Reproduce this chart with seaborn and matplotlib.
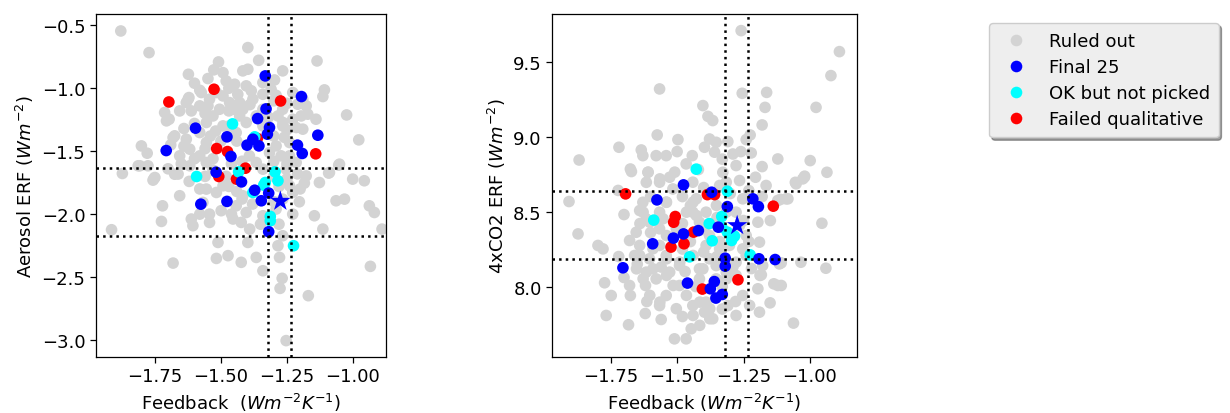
import matplotlib
matplotlib.use("Agg")
import matplotlib.pyplot as plt
import pandas as pd
import seaborn as sns

sns.set_theme(style="ticks")
plt.rcParams["font.family"] = ["DejaVu Sans"]
plt.rcParams["mathtext.fontset"] = "dejavusans"
plt.rcParams["font.size"] = 13
plt.rcParams["text.color"] = "black"
plt.rcParams["axes.labelcolor"] = "black"
plt.rcParams["xtick.color"] = "black"
plt.rcParams["ytick.color"] = "black"

GROUPS = ["Ruled out", "Final 25", "OK but not picked", "Failed qualitative"]
PALETTE = {"Ruled out": "lightgray", "Final 25": "blue",
           "OK but not picked": "cyan", "Failed qualitative": "red"}
DRAW_ORDER = ["Ruled out", "Failed qualitative", "OK but not picked", "Final 25"]

# Observational bounds
feedback_bounds = [-1.32, -1.235]
aerosol_bounds = [-1.632, -2.172]
co2_bounds = [8.636, 8.183]

# (feedback, aerosol ERF)
aer_ruled_out = [
    (-1.879, -0.545), (-1.772, -0.717), (-1.398, -0.677), (-1.357, -0.778), (-1.136, -0.783),
    (-1.509, -0.791), (-1.623, -0.889), (-1.549, -0.923), (-1.527, -0.854), (-1.492, -0.876),
    (-1.417, -0.862), (-1.398, -0.849), (-1.266, -0.862), (-1.297, -0.934), (-1.108, -1.013),
    (-1.114, -1.066), (-1.580, -1.016), (-1.621, -1.074), (-1.631, -1.114), (-1.713, -1.193),
    (-1.696, -1.246), (-1.656, -1.180), (-1.612, -1.180), (-1.580, -1.140), (-1.549, -1.140),
    (-1.480, -0.942), (-1.448, -0.968), (-1.436, -1.048), (-1.404, -0.981), (-1.379, -1.087),
    (-1.341, -1.048), (-1.310, -1.008), (-1.291, -1.056), (-1.228, -1.034), (-1.177, -1.140),
    (-1.190, -1.087), (-1.140, -1.246), (-1.024, -1.212), (-0.978, -1.410), (-1.801, -1.458),
    (-1.779, -1.516), (-1.681, -1.392), (-1.631, -1.405), (-1.580, -1.352), (-1.555, -1.272),
    (-1.530, -1.220), (-1.505, -1.167), (-1.467, -1.114), (-1.417, -1.167), (-1.404, -1.272),
    (-1.284, -1.220), (-1.266, -1.299), (-1.228, -1.246), (-1.190, -1.325), (-1.240, -1.431),
    (-1.291, -1.458), (-1.272, -1.537), (-1.807, -1.616), (-1.776, -1.616), (-1.873, -1.677),
    (-1.750, -1.709), (-1.675, -1.683), (-1.618, -1.616), (-1.555, -1.590), (-1.366, -1.590),
    (-1.215, -1.590), (-1.177, -1.696), (-1.127, -1.749), (-1.089, -1.669), (-1.051, -1.603),
    (-1.001, -1.722), (-0.957, -1.735), (-1.341, -1.643), (-1.253, -1.643),
    (-1.517, -1.034), (-1.492, -1.061), (-1.454, -1.167), (-1.429, -1.220), (-1.366, -1.220),
    (-1.341, -1.299), (-1.492, -1.299), (-1.442, -1.352), (-1.555, -1.431), (-1.618, -1.484),
    (-1.656, -1.537), (-1.580, -1.537), (-1.392, -1.537), (-1.316, -1.511), (-1.240, -1.537),
    (-1.341, -1.167), (-1.266, -1.167), (-1.429, -1.114), (-1.543, -1.087), (-1.341, -0.955),
    (-1.757, -1.730), (-1.656, -1.854), (-1.721, -1.934), (-1.725, -2.058), (-1.612, -2.039),
    (-1.606, -2.092), (-1.914, -2.124), (-1.543, -2.000), (-1.543, -2.066), (-1.517, -1.828),
    (-1.442, -1.934), (-1.454, -2.039), (-1.423, -2.066), (-1.391, -2.119), (-1.398, -2.225),
    (-1.511, -2.225), (-1.517, -2.352), (-1.473, -2.330), (-1.423, -2.383), (-1.366, -2.344),
    (-1.681, -2.389), (-1.341, -2.450), (-1.284, -2.251), (-1.278, -2.344), (-1.266, -2.172),
    (-1.268, -2.510), (-1.276, -2.590), (-1.169, -2.648), (-1.253, -3.005), (-1.203, -1.902),
    (-1.184, -1.754), (-1.146, -2.013), (-1.114, -2.119), (-1.064, -1.894), (-1.032, -1.881),
    (-0.938, -1.934), (-0.919, -1.987), (-0.890, -2.119), (-0.934, -2.415), (-1.228, -2.000),
    (-1.240, -1.775), (-1.555, -1.801), (-1.492, -1.775), (-1.417, -1.854), (-1.291, -1.960),
    (-1.404, -1.987), (-1.341, -2.013), (-1.266, -1.881), (-1.228, -1.828), (-1.499, -1.973),
    (-1.568, -1.907), (-1.196, -1.220), (-1.171, -1.206), (-1.209, -1.127), (-1.215, -1.312),
    (-1.265, -1.272), (-1.092, -1.674), (-1.706, -1.259), (-1.624, -1.087), (-1.574, -1.034),
    (-1.813, -1.616), (-1.753, -1.717), (-1.675, -1.378), (-1.662, -1.682), (-1.054, -1.611),
    (-1.600, -0.960), (-1.470, -1.000), (-1.385, -1.020), (-1.300, -1.100), (-1.250, -1.120),
    (-1.470, -1.180), (-1.390, -1.130), (-1.320, -1.230), (-1.560, -1.200), (-1.600, -1.280),
    (-1.640, -1.320), (-1.520, -1.340), (-1.470, -1.300), (-1.540, -1.380), (-1.500, -1.420),
    (-1.440, -1.420), (-1.300, -1.380), (-1.250, -1.330), (-1.260, -1.390), (-1.690, -1.450),
    (-1.640, -1.460), (-1.560, -1.480), (-1.530, -1.560), (-1.460, -1.600), (-1.420, -1.580),
    (-1.300, -1.580), (-1.250, -1.600), (-1.600, -1.560), (-1.650, -1.600), (-1.700, -1.640),
    (-1.530, -1.650), (-1.480, -1.700), (-1.560, -1.700), (-1.620, -1.740), (-1.580, -1.800),
    (-1.470, -1.780), (-1.440, -1.820), (-1.420, -1.880), (-1.300, -1.700), (-1.250, -1.720),
    (-1.210, -1.680), (-1.280, -1.780), (-1.300, -1.900), (-1.380, -1.920), (-1.460, -2.000),
    (-1.580, -2.000), (-1.350, -2.080), (-1.280, -2.080), (-1.200, -1.800),
]
aer_final = [
    (-1.332, -0.902), (-1.195, -1.066), (-1.329, -1.164), (-1.361, -1.241), (-1.316, -1.312),
    (-1.596, -1.317), (-1.324, -1.365), (-1.477, -1.386), (-1.133, -1.373), (-1.379, -1.405),
    (-1.401, -1.452), (-1.356, -1.458), (-1.210, -1.452), (-1.192, -1.518), (-1.707, -1.495),
    (-1.462, -1.542), (-1.518, -1.667), (-1.422, -1.744), (-1.372, -1.810), (-1.319, -1.833),
    (-1.347, -1.894), (-1.576, -1.921), (-1.477, -1.899), (-1.319, -2.140),
]
aer_ok = [
    (-1.456, -1.283), (-1.592, -1.701), (-1.433, -1.664), (-1.295, -1.664), (-1.284, -1.735),
    (-1.332, -1.749), (-1.372, -1.386), (-1.338, -1.770), (-1.379, -1.828), (-1.313, -2.018),
    (-1.313, -2.053), (-1.225, -2.251),
]
aer_failed = [
    (-1.526, -1.008), (-1.697, -1.109), (-1.274, -1.101), (-1.362, -1.399), (-1.516, -1.479),
    (-1.475, -1.503), (-1.141, -1.521), (-1.407, -1.635), (-1.508, -1.701), (-1.441, -1.722),
]
aer_best = [(-1.275, -1.897)]

# (feedback, 4xCO2 ERF)
co2_ruled_out = [
    (-1.259, 9.707), (-0.889, 9.567), (-0.921, 9.407), (-1.566, 9.318), (-1.255, 9.289),
    (-1.163, 9.295), (-1.169, 9.195), (-1.403, 9.207), (-0.977, 9.195), (-1.384, 9.135),
    (-1.366, 9.107), (-1.180, 9.078), (-1.575, 9.011), (-1.497, 8.980), (-1.225, 9.011),
    (-1.378, 8.984), (-1.353, 8.962), (-1.309, 8.967), (-1.240, 8.980), (-1.719, 8.929),
    (-1.635, 8.911), (-1.629, 8.873), (-1.579, 8.873), (-1.541, 8.873), (-1.397, 8.929),
    (-1.359, 8.896), (-1.290, 8.884), (-1.221, 8.891), (-1.121, 8.851), (-0.999, 8.840),
    (-1.869, 8.844), (-1.676, 8.784), (-1.610, 8.762), (-1.443, 8.873), (-1.466, 8.818),
    (-0.936, 8.762), (-1.021, 8.729), (-1.055, 8.695), (-1.205, 8.729), (-1.278, 8.807),
    (-1.328, 8.762), (-1.528, 8.729), (-1.616, 8.695),
    (-1.907, 8.567), (-1.873, 8.351), (-1.798, 8.274), (-1.779, 8.251), (-1.773, 8.025),
    (-1.748, 7.940), (-1.767, 7.807), (-1.683, 7.745), (-1.679, 8.007), (-1.676, 7.940),
    (-1.654, 8.362), (-1.679, 8.307), (-1.641, 8.274), (-1.660, 8.207), (-1.616, 8.096),
    (-1.619, 8.007), (-1.579, 8.051), (-1.614, 7.900), (-1.541, 7.940), (-1.566, 7.873),
    (-1.510, 7.651), (-1.466, 7.651), (-1.447, 7.718), (-1.397, 7.829), (-1.366, 7.785),
    (-1.278, 7.807), (-1.190, 7.829), (-1.150, 7.891), (-1.062, 7.756), (-1.196, 7.985),
    (-1.121, 8.007), (-1.188, 8.074), (-1.178, 8.140), (-1.115, 8.151), (-1.034, 8.162),
    (-0.940, 8.122), (-0.955, 8.422), (-1.149, 8.440), (-1.196, 8.429), (-1.190, 8.296),
    (-1.121, 8.574), (-1.090, 8.585), (-1.027, 8.718), (-1.629, 8.562), (-1.616, 8.451),
    (-1.641, 8.507), (-1.566, 8.496), (-1.541, 8.562), (-1.428, 8.585), (-1.441, 8.496),
    (-1.391, 8.496), (-1.278, 8.496), (-1.253, 8.585), (-1.265, 8.407), (-1.240, 8.340),
    (-1.253, 8.251), (-1.240, 8.207), (-1.278, 8.162), (-1.278, 8.074), (-1.253, 7.940),
    (-1.309, 7.873), (-1.391, 7.896), (-1.441, 7.873), (-1.491, 8.007), (-1.528, 8.096),
    (-1.491, 8.140), (-1.416, 8.118), (-1.378, 8.185), (-1.353, 8.140), (-1.391, 8.274),
    (-1.416, 8.051), (-1.353, 8.051), (-1.541, 8.207), (-1.566, 8.274), (-1.604, 8.185),
    (-1.516, 8.651), (-1.566, 8.696), (-1.441, 8.696), (-1.340, 8.674), (-1.165, 8.674),
    (-1.315, 8.696), (-1.265, 8.707), (-1.566, 8.385), (-1.503, 8.385), (-1.416, 8.429),
    (-1.378, 8.340), (-1.303, 8.274), (-1.315, 8.051),
    (-1.020, 8.736), (-1.052, 8.685), (-1.083, 8.585), (-1.111, 8.581), (-1.108, 8.158),
    (-1.183, 8.078), (-1.136, 8.018), (-1.108, 8.007), (-1.227, 7.874), (-1.653, 8.118),
    (-1.722, 8.641), (-1.565, 8.718), (-1.509, 8.763), (-1.609, 8.763), (-1.672, 8.767),
    (-1.628, 8.052), (-1.591, 8.118), (-1.540, 8.074), (-1.515, 8.007), (-1.465, 7.941),
    (-1.415, 7.896), (-1.377, 7.852), (-1.565, 7.896), (-1.503, 7.852), (-1.603, 7.941),
    (-1.440, 7.807), (-1.415, 7.741), (-1.377, 7.785), (-1.540, 8.563), (-1.465, 8.496),
    (-1.428, 8.474), (-1.628, 8.496), (-1.603, 8.429), (-1.553, 8.452), (-1.440, 8.563),
    (-1.352, 8.541), (-1.315, 8.496), (-1.340, 8.252), (-1.315, 8.096), (-1.403, 8.118),
    (-1.440, 8.207), (-1.490, 8.163), (-1.540, 8.185), (-1.591, 8.252), (-1.641, 8.207),
    (-1.600, 8.600), (-1.480, 8.600), (-1.400, 8.660), (-1.300, 8.620), (-1.230, 8.640),
    (-1.180, 8.600), (-1.450, 8.540), (-1.350, 8.460), (-1.400, 8.380), (-1.480, 8.420),
    (-1.540, 8.340), (-1.600, 8.360), (-1.640, 8.420), (-1.450, 8.300), (-1.400, 8.230),
    (-1.340, 8.300), (-1.250, 8.440), (-1.230, 8.300), (-1.220, 8.120), (-1.350, 8.200),
    (-1.470, 8.100), (-1.560, 8.130), (-1.430, 8.000), (-1.330, 8.000), (-1.280, 7.900),
    (-1.330, 7.850), (-1.480, 7.800), (-1.560, 7.780), (-1.620, 7.820), (-1.650, 8.150),
    (-1.700, 8.060), (-1.720, 8.200), (-1.700, 8.480), (-1.500, 8.900), (-1.420, 8.780),
    (-1.330, 8.850), (-1.260, 8.900), (-1.180, 8.800), (-1.480, 8.250), (-1.290, 8.130),
]
co2_final = [
    (-1.476, 8.678), (-1.576, 8.578), (-1.370, 8.629), (-1.311, 8.533), (-1.215, 8.585),
    (-1.194, 8.533), (-1.345, 8.396), (-1.476, 8.351), (-1.514, 8.323), (-1.420, 8.373),
    (-1.592, 8.285), (-1.319, 8.189), (-1.319, 8.136), (-1.192, 8.185), (-1.131, 8.180),
    (-1.704, 8.125), (-1.461, 8.023), (-1.360, 8.033), (-1.375, 7.985), (-1.330, 7.947),
    (-1.354, 7.923),
]
co2_ok = [
    (-1.311, 8.636), (-1.588, 8.443), (-1.379, 8.420), (-1.332, 8.467), (-1.332, 8.396),
    (-1.311, 8.363), (-1.284, 8.336), (-1.295, 8.307), (-1.368, 8.305), (-1.453, 8.198),
    (-1.225, 8.211), (-1.428, 8.783),
]
co2_failed = [
    (-1.694, 8.618), (-1.386, 8.613), (-1.359, 8.613), (-1.138, 8.536), (-1.507, 8.467),
    (-1.513, 8.429), (-1.438, 8.363), (-1.523, 8.263), (-1.474, 8.285), (-1.271, 8.045),
    (-1.405, 7.983),
]
co2_best = [(-1.274, 8.407)]

feedback_ticks = [-1.75, -1.50, -1.25, -1.00]
aerosol_ticks = [-3.0, -2.5, -2.0, -1.5, -1.0, -0.5]
co2_ticks = [8.0, 8.5, 9.0, 9.5]


def build_frame(groups):
    rows = []
    for name in DRAW_ORDER:
        for fb, erf in groups[name]:
            rows.append({"feedback": fb, "erf": erf, "group": name})
    return pd.DataFrame(rows)


aer_df = build_frame({"Ruled out": aer_ruled_out, "Final 25": aer_final,
                      "OK but not picked": aer_ok, "Failed qualitative": aer_failed})
co2_df = build_frame({"Ruled out": co2_ruled_out, "Final 25": co2_final,
                      "OK but not picked": co2_ok, "Failed qualitative": co2_failed})
aer_best_df = pd.DataFrame(aer_best, columns=["feedback", "erf"])
co2_best_df = pd.DataFrame(co2_best, columns=["feedback", "erf"])

fig = plt.figure(figsize=(12.3, 4.14), dpi=100)
ax1 = fig.add_axes([0.0778, 0.1353, 0.236, 0.8285])
ax2 = fig.add_axes([0.449, 0.1353, 0.2475, 0.8285])

panels = [
    (ax1, aer_df, aer_best_df, aerosol_bounds, (-1.974, -0.875), (-3.135, -0.41),
     aerosol_ticks, r"Aerosol ERF ($Wm^{-2}$)", r"Feedback  ($Wm^{-2}K^{-1}$)"),
    (ax2, co2_df, co2_best_df, co2_bounds, (-1.97, -0.824), (7.53, 9.818),
     co2_ticks, r"4xCO2 ERF ($Wm^{-2}$)", r"Feedback ($Wm^{-2}K^{-1}$)"),
]

for ax, df, best, ybounds, xlim, ylim, yticks, ylabel, xlabel in panels:
    sns.scatterplot(data=df, x="feedback", y="erf", hue="group", hue_order=GROUPS,
                    palette=PALETTE, s=70, linewidth=0, edgecolor="none", ax=ax,
                    legend=(ax is ax1), zorder=2)
    sns.scatterplot(data=best, x="feedback", y="erf", color="blue", marker="*",
                    s=240, linewidth=0, edgecolor="none", ax=ax, zorder=3)
    for v in feedback_bounds:
        ax.axvline(v, color="black", linestyle=":", linewidth=1.8, zorder=4)
    for h in ybounds:
        ax.axhline(h, color="black", linestyle=":", linewidth=1.8, zorder=4)
    ax.set_xlim(*xlim)
    ax.set_ylim(*ylim)
    ax.set_xticks(feedback_ticks)
    ax.set_yticks(yticks)
    ax.set_xticklabels([f"{t:.2f}".replace("-", "\u2212") for t in feedback_ticks])
    ax.set_yticklabels([f"{t:.1f}".replace("-", "\u2212") for t in yticks])
    ax.tick_params(labelsize=13, length=4, width=0.9, color="black", labelcolor="black")
    ax.set_xlabel(xlabel, fontsize=13, color="black")
    ax.set_ylabel(ylabel, fontsize=13, color="black")
    for sp in ax.spines.values():
        sp.set_color("black")
        sp.set_linewidth(0.9)

handles, labels = ax1.get_legend_handles_labels()
ax1.get_legend().remove()
fig.legend(handles, labels, loc="upper left", bbox_to_anchor=(0.804, 0.942),
           borderaxespad=0, fontsize=13, frameon=True, fancybox=True, shadow=True,
           facecolor="#eeeeee", edgecolor="#cccccc", framealpha=1,
           labelspacing=0.45, handletextpad=0.8, borderpad=0.5, markerscale=1.0)

fig.savefig("out.png", dpi=100)
